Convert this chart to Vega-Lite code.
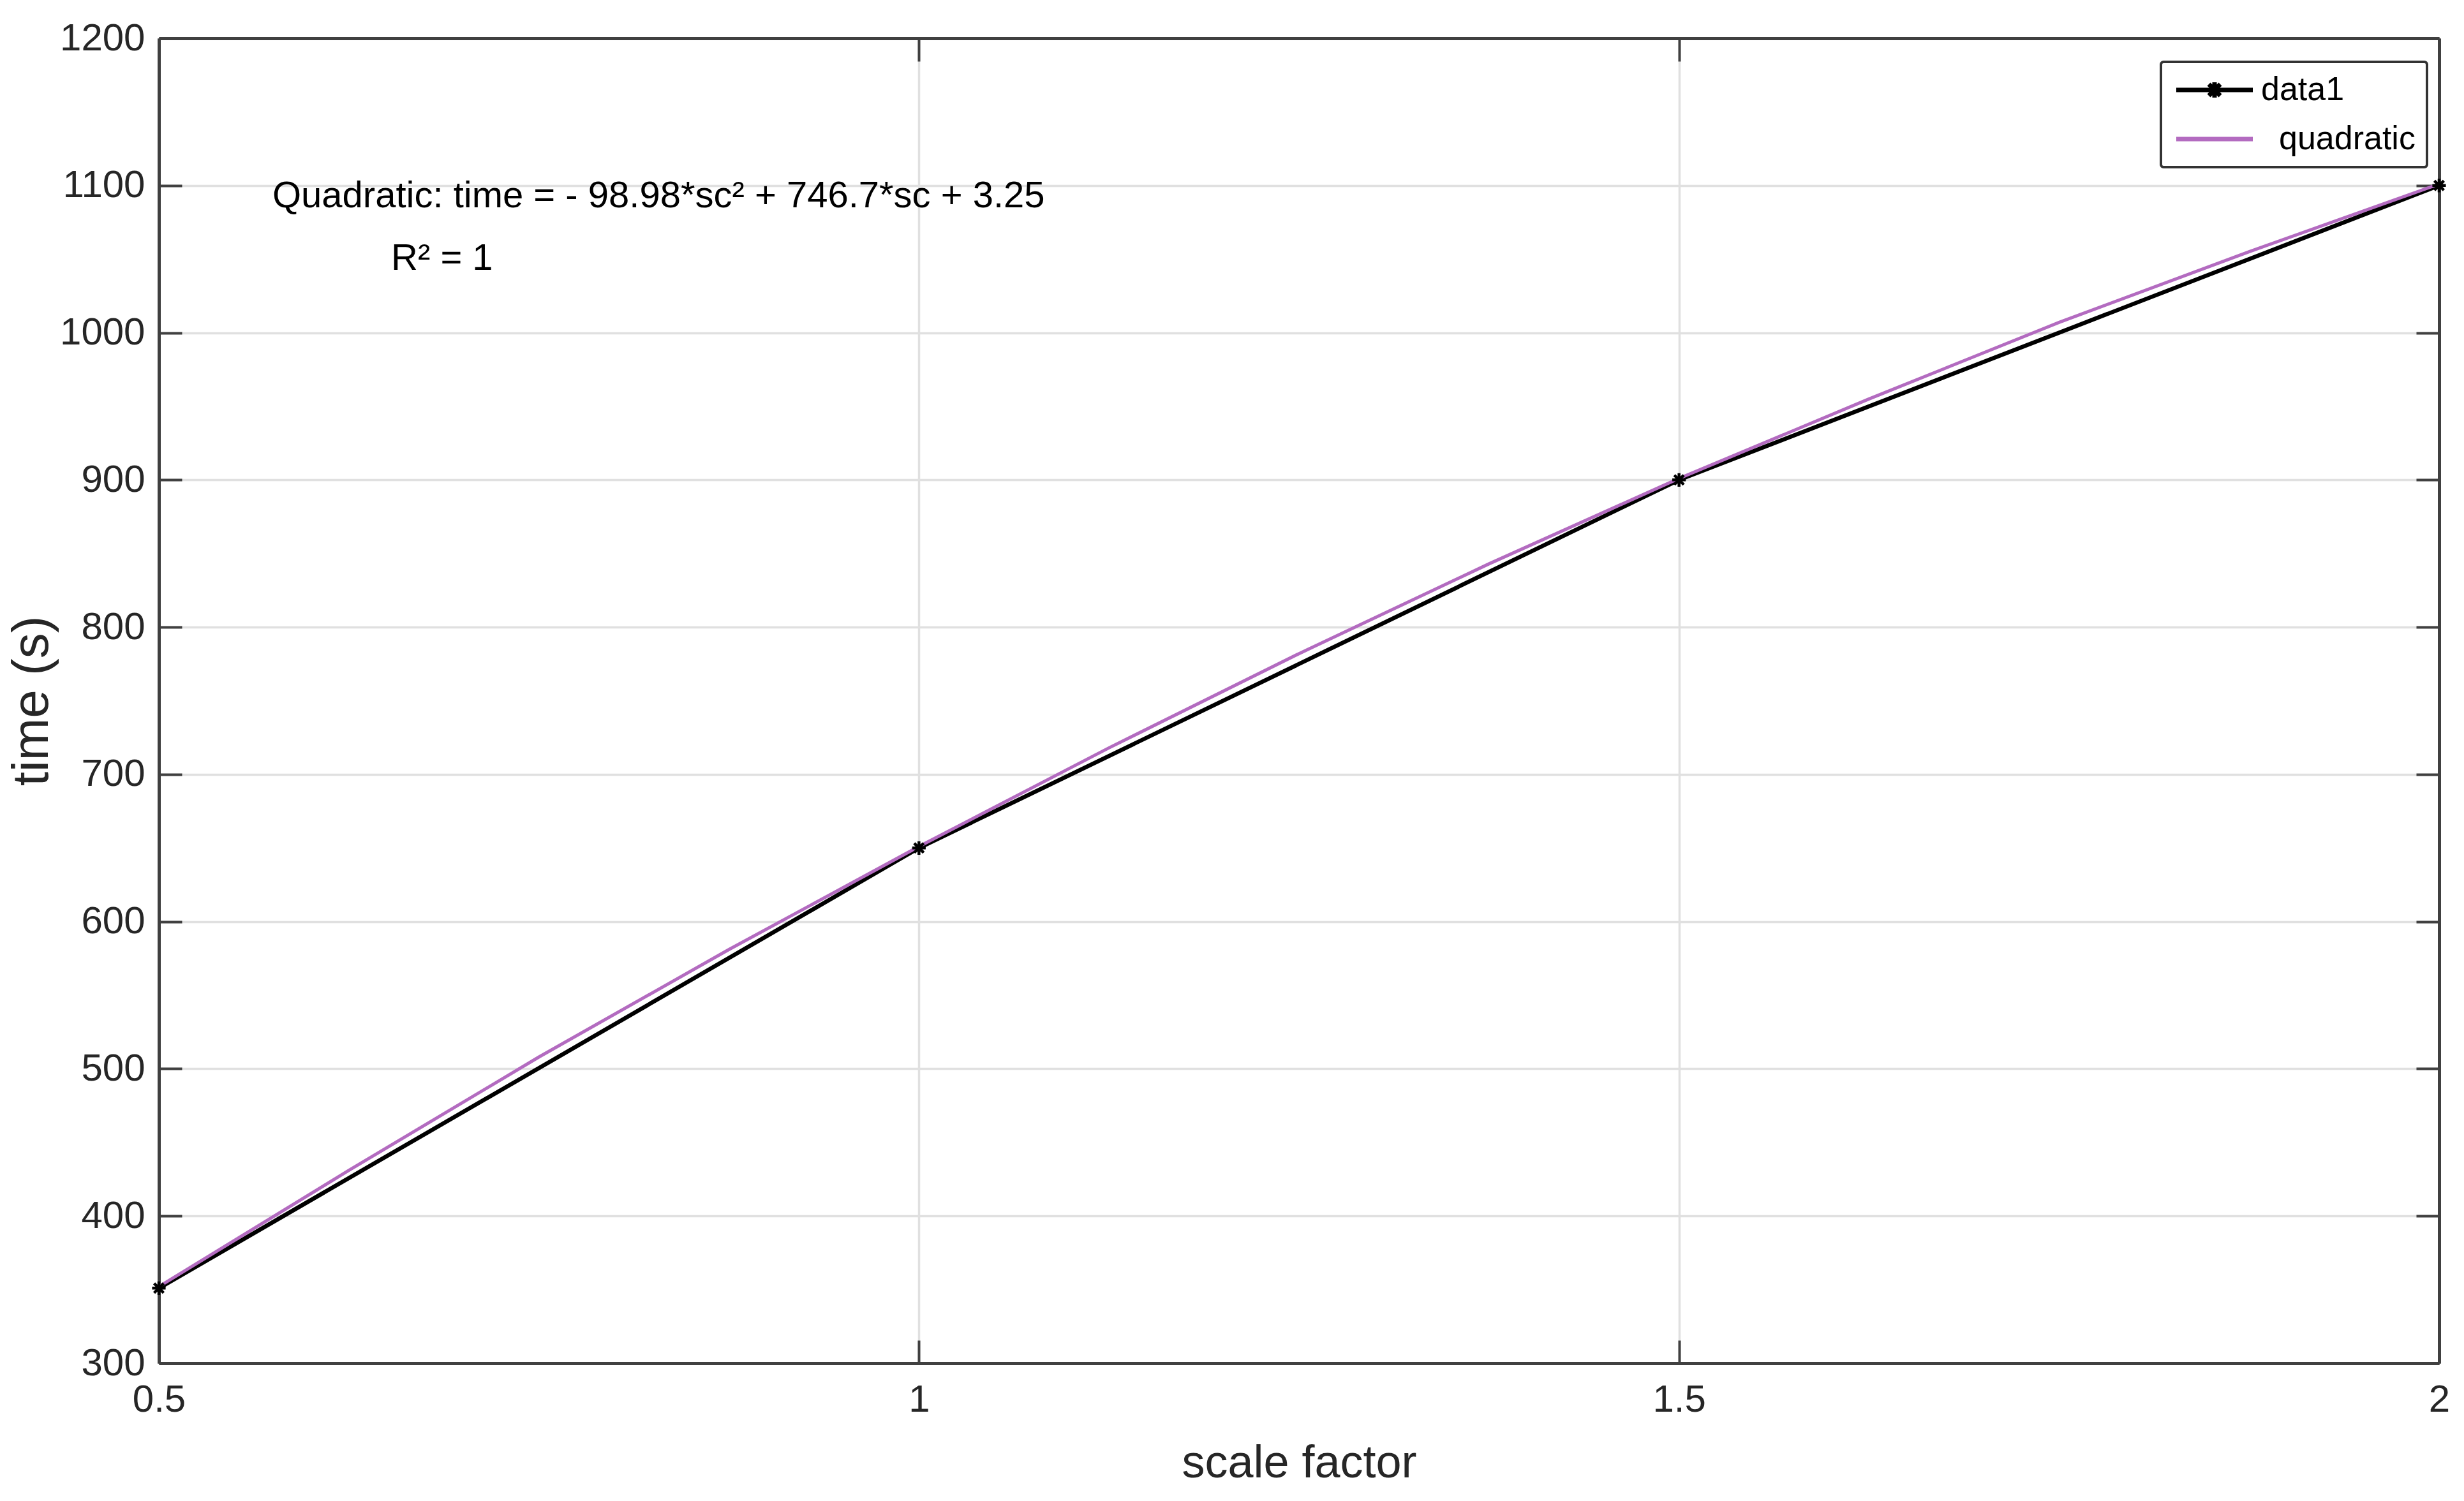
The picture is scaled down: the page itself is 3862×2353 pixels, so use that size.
{
  "$schema": "https://vega.github.io/schema/vega-lite/v6.json",
  "width": 3574,
  "height": 2077,
  "autosize": {"type": "none"},
  "padding": {"left": 249, "top": 60, "right": 39, "bottom": 216},
  "background": "white",
  "config": {
    "view": {"stroke": null},
    "axis": {
      "domainColor": "#404040",
      "domainWidth": 5,
      "tickColor": "#404040",
      "tickWidth": 4,
      "tickSize": -36,
      "labelColor": "#262626",
      "titleColor": "#262626",
      "titleFontWeight": "normal",
      "labelFont": "Liberation Sans, Arial, sans-serif",
      "titleFont": "Liberation Sans, Arial, sans-serif",
      "labelFontSize": 60,
      "gridColor": "#e0e0e0",
      "gridWidth": 3.5,
      "labelOverlap": false
    }
  },
  "data": {
    "values": [
      {"sc": 0.5, "time": 351, "series": "data1"},
      {"sc": 1.0, "time": 650, "series": "data1"},
      {"sc": 1.5, "time": 900, "series": "data1"},
      {"sc": 2.0, "time": 1100, "series": "data1"},
      {"sc": 0.5, "time": 352, "series": "quadratic"},
      {"sc": 0.625, "time": 431, "series": "quadratic"},
      {"sc": 0.75, "time": 508, "series": "quadratic"},
      {"sc": 0.875, "time": 581, "series": "quadratic"},
      {"sc": 1.0, "time": 651, "series": "quadratic"},
      {"sc": 1.125, "time": 718, "series": "quadratic"},
      {"sc": 1.25, "time": 782, "series": "quadratic"},
      {"sc": 1.375, "time": 843, "series": "quadratic"},
      {"sc": 1.5, "time": 901, "series": "quadratic"},
      {"sc": 1.625, "time": 955, "series": "quadratic"},
      {"sc": 1.75, "time": 1007, "series": "quadratic"},
      {"sc": 1.875, "time": 1055, "series": "quadratic"},
      {"sc": 2.0, "time": 1101, "series": "quadratic"}
    ]
  },
  "layer": [
    {
      "transform": [{"filter": "datum.series === 'data1'"}],
      "mark": {"type": "line", "strokeWidth": 6.5},
      "encoding": {
        "x": {
          "field": "sc", "type": "quantitative",
          "scale": {"domain": [0.5, 2], "nice": false, "zero": false},
          "axis": {
            "orient": "bottom", "values": [0.5, 1, 1.5, 2], "format": "~g",
            "title": "scale factor", "grid": true, "labelFlush": false,
            "labelPadding": 64, "titleFontSize": 72, "titlePadding": 34
          }
        },
        "y": {
          "field": "time", "type": "quantitative",
          "scale": {"domain": [300, 1200], "nice": false, "zero": false},
          "axis": {
            "orient": "left", "values": [300, 400, 500, 600, 700, 800, 900, 1000, 1100, 1200],
            "format": "d",
            "title": "time (s)", "grid": true, "labelPadding": 58,
            "titleFontSize": 80, "titlePadding": 2
          }
        },
        "color": {
          "field": "series", "type": "nominal",
          "scale": {"domain": ["data1", "quadratic"], "range": ["#000000", "#b36bc0"]},
          "legend": {
            "orient": "none", "legendX": 3138, "legendY": 37, "title": null,
            "symbolSize": 1600, "symbolStrokeWidth": 7,
            "labelFont": "Liberation Sans, Arial, sans-serif", "labelFontSize": 52, "labelColor": "#000000",
            "labelLimit": 0,
            "labelOffset": 87, "rowPadding": 25, "padding": 18,
            "strokeColor": "#333333", "fillColor": "#ffffff", "cornerRadius": 4,
            "encode": {
              "symbols": {"update": {
                "shape": {"signal": "datum.value === 'data1' ? 'M-1,0L5,0M1.55,-0.45L2.45,0.45M1.55,0.45L2.45,-0.45M2,-0.6L2,0.6' : 'M-1,0L5,0'"},
                "fill": {"value": "transparent"},
                "strokeWidth": {"value": 7}
              }},
              "labels": {"update": {
                "dx": {"signal": "datum.value === 'quadratic' ? 28 : 0"}
              }},
              "legend": {"update": {"strokeWidth": {"value": 4}}}
            }
          }
        }
      }
    },
    {
      "transform": [{"filter": "datum.series === 'quadratic'"}],
      "mark": {"type": "line", "strokeWidth": 5},
      "encoding": {
        "x": {
          "field": "sc", "type": "quantitative",
          "axis": {"orient": "top", "values": [0.5, 1, 1.5, 2], "labels": false, "title": null, "grid": false}
        },
        "y": {
          "field": "time", "type": "quantitative",
          "axis": {"orient": "right", "values": [300, 400, 500, 600, 700, 800, 900, 1000, 1100, 1200], "labels": false, "title": null, "grid": false}
        },
        "color": {"field": "series", "type": "nominal", "legend": null}
      }
    },
    {
      "transform": [{"filter": "datum.series === 'data1'"}],
      "mark": {
        "type": "point",
        "shape": "M-1,0L1,0M0,-1L0,1M-0.7,-0.7L0.7,0.7M-0.7,0.7L0.7,-0.7",
        "filled": false, "stroke": "#000000", "strokeWidth": 4.5, "size": 450, "opacity": 1
      },
      "encoding": {
        "x": {"field": "sc", "type": "quantitative", "axis": null},
        "y": {"field": "time", "type": "quantitative", "axis": null}
      }
    },
    {
      "data": {"values": [{}]},
      "mark": {
        "type": "text", "text": "Quadratic: time = - 98.98*sc² + 746.7*sc + 3.25",
        "align": "left", "baseline": "alphabetic", "fontSize": 58, "color": "#000000",
        "font": "Liberation Sans, Arial, sans-serif"
      },
      "encoding": {
        "x": {"datum": 0.5747, "type": "quantitative", "axis": null},
        "y": {"datum": 1085, "type": "quantitative", "axis": null}
      }
    },
    {
      "data": {"values": [{}]},
      "mark": {
        "type": "text", "text": "R² = 1",
        "align": "left", "baseline": "alphabetic", "fontSize": 58, "color": "#000000",
        "font": "Liberation Sans, Arial, sans-serif"
      },
      "encoding": {
        "x": {"datum": 0.6528, "type": "quantitative", "axis": null},
        "y": {"datum": 1042.6, "type": "quantitative", "axis": null}
      }
    }
  ],
  "resolve": {"axis": {"x": "independent", "y": "independent"}}
}
